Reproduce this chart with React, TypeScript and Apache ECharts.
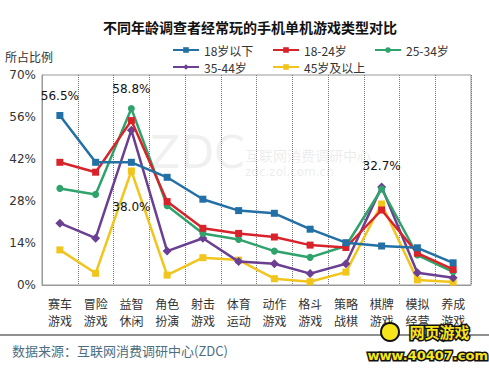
import React, { useEffect, useRef } from "react";
import * as echarts from "echarts";

const categories = ["赛车\n游戏", "冒险\n游戏", "益智\n休闲", "角色\n扮演", "射击\n游戏", "体育\n运动", "动作\n游戏", "格斗\n游戏", "策略\n战棋", "棋牌\n游戏", "模拟\n经营", "养成\n游戏"];
const seriesNames = ["18岁以下", "18-24岁", "25-34岁", "35-44岁", "45岁及以上"];
const under18 = [56.5, 40.9, 40.9, 35.9, 28.6, 24.8, 23.9, 18.6, 14.1, 13.0, 12.4, 7.4];
const age18to24 = [40.9, 37.6, 54.8, 27.8, 18.9, 17.2, 16.0, 13.3, 12.5, 25.0, 10.6, 5.2];
const age25to34 = [32.2, 30.2, 58.8, 26.4, 17.2, 15.2, 11.3, 9.2, 13.0, 32.0, 10.0, 4.4];
const age35to44 = [20.6, 15.6, 51.6, 11.3, 15.6, 7.8, 7.1, 3.8, 7.1, 32.7, 4.1, 2.4];
const age45plus = [11.7, 3.9, 38.0, 3.3, 9.1, 8.3, 2.1, 1.1, 4.3, 27.0, 1.7, 1.0];
const yTicks = [0, 14, 28, 42, 56, 70];
// labelled points: [seriesIndex, categoryIndex, position]
const labelled: [number, number, string][] = [[0, 0, "top"], [2, 2, "top"], [4, 2, "bottom"], [3, 9, "top"]];

const colors = ["#2270a6", "#d8232a", "#2fa36b", "#6b3f91", "#f2c51c"];
const symbols = ["rect", "rect", "circle", "diamond", "rect"];

export default function App() {
  const ref = useRef<HTMLDivElement>(null);
  useEffect(() => {
    if (!ref.current) return;
    const chart = echarts.init(ref.current, null, { renderer: "svg" });
    const data = [under18, age18to24, age25to34, age35to44, age45plus];
    const legendPos = [[172, 44], [272, 44], [374, 44], [172, 61], [272, 61]];
    const series = data.map((vals, si) => ({
      name: seriesNames[si],
      type: "line",
      data: vals.map((v, ci) => {
        const l = labelled.find((x) => x[0] === si && x[1] === ci);
        if (!l) return v;
        return {
          value: v,
          label: {
            show: true,
            position: l[2],
            distance: l[2] === "bottom" ? 26 : 10,
            formatter: (p: any) => p.value.toFixed(1) + "%",
            color: "#111",
            fontSize: 12,
            fontFamily: "DejaVu Sans, sans-serif",
          },
        };
      }),
      symbol: symbols[si],
      symbolSize: si === 3 ? 9 : 7,
      lineStyle: { width: 2.5, color: colors[si] },
      itemStyle: { color: colors[si] },
      z: 10 - si,
    }));
    chart.setOption({
      animation: false,
      backgroundColor: "#fff",
      title: {
        text: "不同年龄调查者经常玩的手机单机游戏类型对比",
        left: 245,
        textAlign: "center",
        top: 15,
        textStyle: { fontSize: 14, fontWeight: "bold", color: "#111", fontFamily: "Noto Sans CJK SC" },
      },
      legend: seriesNames.map((n, i) => ({
        data: [n],
        left: legendPos[i][0],
        top: legendPos[i][1],
        padding: 0,
        itemWidth: 26,
        itemHeight: 7,
        itemGap: 4,
        textStyle: { fontSize: 12, color: "#333", fontFamily: "Noto Sans CJK SC" },
      })),
      grid: { left: 42, right: 18, top: 75, bottom: 84 },
      xAxis: {
        type: "category",
        data: categories,
        boundaryGap: true,
        axisLine: { show: true, lineStyle: { color: "#999" } },
        axisTick: { show: false },
        splitLine: { show: true, lineStyle: { type: "dotted", color: "#777" } },
        axisLabel: { interval: 0, fontSize: 12, color: "#333", lineHeight: 17, margin: 10, fontFamily: "Noto Sans CJK SC" },
      },
      yAxis: {
        type: "value",
        min: 0,
        max: 70,
        interval: 14,
        axisLine: { show: true, lineStyle: { color: "#999" } },
        axisTick: { show: false },
        splitLine: { show: false },
        axisLabel: { formatter: (v: number) => (yTicks.includes(v) ? v + "%" : ""), fontSize: 12, color: "#333", margin: 6, fontFamily: "DejaVu Sans, sans-serif" },
      },
      series,
      graphic: [
        { type: "rect", shape: { x: 42, y: 75, width: 429, height: 210 }, style: { fill: "none", stroke: "#999", lineWidth: 1 }, silent: true, z: 0 },
        { type: "text", left: 5, top: 50, style: { text: "所占比例", fontSize: 12, fill: "#333", fontFamily: "Noto Sans CJK SC" } },
        { type: "text", left: 150, top: 130, style: { text: "ZDC", fontSize: 44, fill: "rgba(180,180,180,0.2)", fontFamily: "DejaVu Sans" }, z: 0 },
        { type: "text", left: 245, top: 148, style: { text: "互联网消费调研中心", fontSize: 14, fill: "rgba(180,180,180,0.25)", fontFamily: "Noto Sans CJK SC" }, z: 0 },
        { type: "text", left: 245, top: 166, style: { text: "zdc.zol.com.cn", fontSize: 12, fill: "rgba(180,180,180,0.25)", fontFamily: "DejaVu Sans" }, z: 0 },
        { type: "line", shape: { x1: 0, y1: 335, x2: 489, y2: 335 }, style: { stroke: "#222", lineWidth: 1.2 } },
        { type: "text", left: 12, top: 344, style: { text: "数据来源：互联网消费调研中心(ZDC)", fontSize: 13, fill: "#4d6e80", fontFamily: "Noto Sans CJK SC" } },
        { type: "text", left: 408, top: 322, style: { text: "网页游戏", fontSize: 15, fontWeight: "bold", fill: "#f7e51c", stroke: "#111", lineWidth: 3, fontFamily: "Noto Sans CJK SC" }, z: 20 },
        { type: "text", left: 366, top: 347, style: { text: "www.40407.com", fontSize: 13, fontWeight: "bold", fill: "#f7e51c", stroke: "#111", lineWidth: 3, fontFamily: "DejaVu Sans" }, z: 20 },
        { type: "circle", shape: { cx: 390, cy: 332, r: 9 }, style: { fill: "#f7e51c", stroke: "#111", lineWidth: 2 }, z: 20 },
      ],
    });
    return () => chart.dispose();
  }, []);
  return <div ref={ref} style={{ width: 489, height: 369, position: "absolute", left: 0, top: 0 }} />;
}
